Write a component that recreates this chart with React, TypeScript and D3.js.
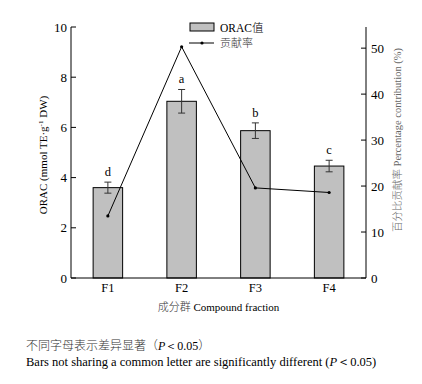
import React from 'react';
import * as d3 from 'd3';

const fractions = ['F1', 'F2', 'F3', 'F4'];
const oracValues = [3.6, 7.04, 5.87, 4.46];
const oracErrors = [0.22, 0.47, 0.31, 0.23];
const sigLetters = ['d', 'a', 'b', 'c'];
const contribution = [13.5, 50.3, 19.6, 18.6];
const leftTicks = [0, 2, 4, 6, 8, 10];
const rightTicks = [0, 10, 20, 30, 40, 50];

const serif = '"Liberation Serif", "Times New Roman", serif';
const cjk = '"Noto Sans CJK SC", sans-serif';

function App() {
  const width = 422;
  const height = 384;
  const margin = { top: 27, right: 56, bottom: 106, left: 71 };
  const x0 = margin.left;
  const x1 = width - margin.right;
  const yBottom = height - margin.bottom;

  const x = d3
    .scaleBand()
    .domain(fractions)
    .range([x0, x1])
    .paddingInner(0.6)
    .paddingOuter(0.3);

  const y = d3.scaleLinear().domain([0, 10]).range([yBottom, margin.top]);
  const y2 = d3.scaleLinear().domain([0, 54.6]).range([yBottom, margin.top]);

  const cx = (f: string) => (x(f) as number) + x.bandwidth() / 2;

  const line = d3
    .line<number>()
    .x((_, i) => cx(fractions[i]))
    .y((d) => y2(d));

  const tickLen = 5;

  return (
    <svg
      width={width}
      height={height}
      style={{ position: 'absolute', left: 0, top: 0, background: '#fff' }}
      fontFamily={serif}
    >
      {/* bars */}
      <g>
        {oracValues.map((v, i) => (
          <rect
            key={fractions[i]}
            x={x(fractions[i])}
            y={y(v)}
            width={x.bandwidth()}
            height={y(0) - y(v)}
            fill="#c0c0c0"
            stroke="#000"
            strokeWidth={1}
          />
        ))}
      </g>

      {/* error bars + letters */}
      <g stroke="#333" strokeWidth={1}>
        {oracValues.map((v, i) => {
          const c = cx(fractions[i]);
          const top = y(v + oracErrors[i]);
          const bot = y(v - oracErrors[i]);
          return (
            <g key={'e' + i}>
              <line x1={c} x2={c} y1={top} y2={bot} />
              <line x1={c - 3.5} x2={c + 3.5} y1={top} y2={top} />
              <line x1={c - 3.5} x2={c + 3.5} y1={bot} y2={bot} />
            </g>
          );
        })}
      </g>
      {oracValues.map((v, i) => (
        <text
          key={'l' + i}
          x={cx(fractions[i])}
          y={y(v + oracErrors[i]) - 6}
          textAnchor="middle"
          fontSize={12.5}
          fill="#000"
        >
          {sigLetters[i]}
        </text>
      ))}

      {/* contribution line */}
      <path d={line(contribution) || ''} fill="none" stroke="#000" strokeWidth={1} />
      {contribution.map((v, i) => (
        <circle key={'p' + i} cx={cx(fractions[i])} cy={y2(v)} r={1.6} fill="#000" />
      ))}

      {/* left axis */}
      <line x1={x0} x2={x0} y1={margin.top} y2={yBottom} stroke="#000" />
      {leftTicks.map((t) => (
        <g key={'lt' + t}>
          <line x1={x0} x2={x0 + tickLen} y1={y(t)} y2={y(t)} stroke="#000" />
          <text x={x0 - 4} y={y(t) + 4.5} textAnchor="end" fontSize={13}>
            {t}
          </text>
        </g>
      ))}

      {/* right axis */}
      <line x1={x1} x2={x1} y1={margin.top} y2={yBottom} stroke="#000" />
      {rightTicks.map((t) => (
        <g key={'rt' + t}>
          <line x1={x1} x2={x1 - tickLen} y1={y2(t)} y2={y2(t)} stroke="#000" />
          <text x={x1 + 5} y={y2(t) + 4.5} textAnchor="start" fontSize={13}>
            {t}
          </text>
        </g>
      ))}

      {/* bottom axis */}
      <line x1={x0} x2={x1} y1={yBottom} y2={yBottom} stroke="#000" />
      {fractions.map((f) => (
        <text key={'xt' + f} x={cx(f)} y={yBottom + 14} textAnchor="middle" fontSize={12.5}>
          {f}
        </text>
      ))}

      {/* axis titles */}
      <text x={(x0 + x1) / 2} y={yBottom + 33} textAnchor="middle" fontSize={11}>
        <tspan fontFamily={cjk} fontWeight={300} fill="#333">成分群</tspan> Compound fraction
      </text>
      <text transform={`translate(47,155) rotate(-90)`} textAnchor="middle" fontSize={11}>
        ORAC (mmol TE·g<tspan dy={-4} fontSize={7}>-1</tspan>
        <tspan dy={4}> DW)</tspan>
      </text>
      <text
        transform={`translate(401,140) rotate(-90)`}
        textAnchor="middle"
        fontSize={10.5}
        fill="#666"
      >
        <tspan fontFamily={cjk} fontWeight={300}>百分比贡献率</tspan> Percentage contribution (%)
      </text>

      {/* legend */}
      <rect x={190} y={23} width={24} height={8} fill="#c0c0c0" stroke="#000" />
      <text x={220} y={31.5} fontSize={11.5}>
        ORAC<tspan fontFamily={cjk} fontWeight={300}>值</tspan>
      </text>
      <line x1={189} x2={214} y1={43} y2={43} stroke="#000" />
      <circle cx={202} cy={43} r={1.6} fill="#000" />
      <text x={220} y={47} fontSize={11} fill="#333" fontFamily={cjk} fontWeight={300}>
        贡献率
      </text>

      {/* footnotes */}
      <text x={26} y={350} fontSize={12}>
        <tspan fontFamily={cjk} fontWeight={300} fill="#333">不同字母表示差异显著（</tspan>
        <tspan fontStyle="italic">P</tspan>
        <tspan>＜0.05</tspan>
        <tspan fontFamily={cjk} fontWeight={300} fill="#333">）</tspan>
      </text>
      <text x={26} y={366} fontSize={12.5}>
        Bars not sharing a common letter are significantly different (<tspan fontStyle="italic">P</tspan>＜0.05)
      </text>
    </svg>
  );
}

export default App;
